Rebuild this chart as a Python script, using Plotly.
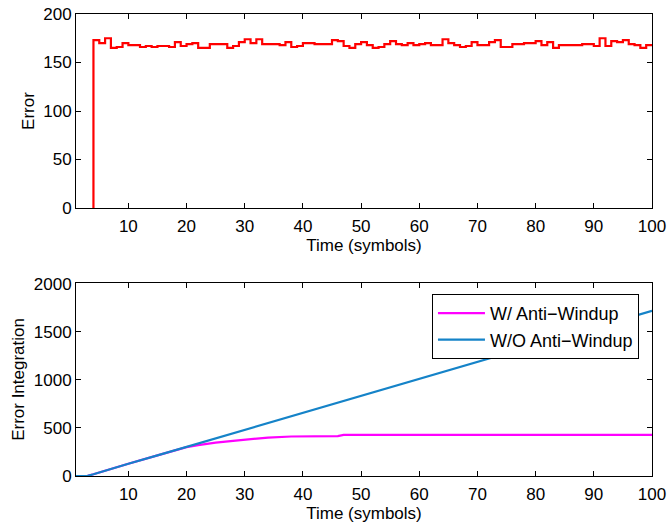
import plotly.graph_objects as go
from plotly.subplots import make_subplots

# ---- data ----
error_time = [4] + list(range(4, 101))
error_values = [0, 173, 170, 175, 165, 166, 170, 168,
                168, 166, 167, 166, 167, 167, 166, 171, 167, 169,
                170, 165, 165, 169, 169, 169, 165, 167, 171, 174,
                170, 174, 169, 169, 169, 168, 171, 166, 167, 170,
                170, 169, 169, 169, 173, 172, 167, 165, 169, 171,
                168, 165, 166, 169, 172, 169, 168, 170, 168, 169,
                170, 168, 168, 174, 170, 168, 166, 167, 171, 168,
                168, 171, 173, 166, 166, 169, 169, 170, 170, 172,
                168, 171, 165, 168, 168, 168, 168, 169, 169, 167,
                175, 167, 172, 171, 173, 169, 168, 165, 168, 167]

wo_time = [1, 2, 3, 4, 5, 10, 15, 20, 25, 30, 35, 40, 45, 50, 55, 60, 65, 70, 75, 80, 85, 90, 95, 100]
wo_values = [0, 0, 2, 18, 35, 128, 215, 303, 392, 480, 568, 657, 745, 833, 921, 1010, 1098, 1187, 1276, 1364, 1452, 1541, 1630, 1720]

w_time = [1, 2, 3, 4, 5, 10, 15, 20, 22, 25, 28, 30, 34, 38, 40, 46, 47, 100]
w_values = [0, 0, 2, 18, 35, 128, 215, 300, 322, 348, 366, 380, 400, 411, 413, 415, 428, 428]

x_ticks = [10, 20, 30, 40, 50, 60, 70, 80, 90, 100]
top_y_ticks = [0, 50, 100, 150, 200]
bottom_y_ticks = [0, 500, 1000, 1500, 2000]

FONT = "Liberation Sans, Arial, Helvetica, sans-serif"

fig = make_subplots(rows=2, cols=1, vertical_spacing=0.0)

fig.add_trace(go.Scatter(x=error_time, y=error_values, mode="lines",
                         line=dict(color="#FF0000", width=2.2, shape="hv"),
                         showlegend=False), row=1, col=1)

fig.add_trace(go.Scatter(x=w_time, y=w_values, mode="lines",
                         line=dict(color="#FF00FF", width=2.2),
                         name="W/ Anti\u2212Windup"), row=2, col=1)
fig.add_trace(go.Scatter(x=wo_time, y=wo_values, mode="lines",
                         line=dict(color="#1583C8", width=2.2),
                         name="W/O Anti\u2212Windup"), row=2, col=1)

axis_common = dict(showline=True, linecolor="black", linewidth=1, mirror="ticks",
                   ticks="inside", ticklen=5, tickcolor="black", showgrid=False,
                   zeroline=False, automargin=False,
                   tickfont=dict(size=17, color="black", family=FONT))

fig.update_xaxes(range=[1, 100], tickvals=x_ticks, ticklabelstandoff=3, **axis_common,
                 title=dict(text="Time (symbols)", font=dict(size=17, color="black", family=FONT),
                            standoff=2))
fig.update_yaxes(**axis_common)
fig.update_yaxes(range=[0, 200], tickvals=top_y_ticks, row=1, col=1,
                 title=dict(text="Error", font=dict(size=17, color="black", family=FONT), standoff=4))
fig.update_yaxes(range=[0, 2010], tickvals=bottom_y_ticks, row=2, col=1,
                 title=dict(text="Error Integration", font=dict(size=17, color="black", family=FONT), standoff=4))

fig.update_layout(
    width=669, height=527,
    margin=dict(l=76, r=17, t=14, b=51),
    paper_bgcolor="white", plot_bgcolor="white",
    font=dict(family=FONT, color="black", size=17),
    yaxis=dict(domain=[0.580, 1.0]),
    yaxis2=dict(domain=[0.0, 0.418]),
    legend=dict(x=0.618, y=0.394, xanchor="left", yanchor="top",
                bgcolor="white", bordercolor="black", borderwidth=1,
                font=dict(size=18, family=FONT, color="black"),
                tracegroupgap=0, itemwidth=47),
)

fig.write_html("out.html", config={"displayModeBar": False},
               post_script="document.body.style.margin='0';document.body.style.overflow='hidden';")
